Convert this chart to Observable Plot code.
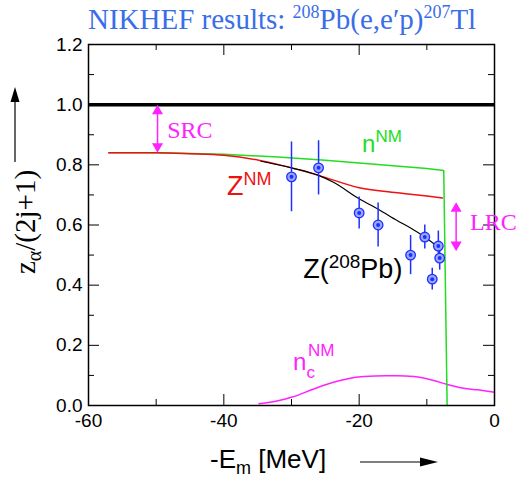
<!DOCTYPE html>
<html><head><meta charset="utf-8">
<script src="https://cdn.jsdelivr.net/npm/d3@7"></script>
<script src="https://cdn.jsdelivr.net/npm/@observablehq/plot@0.6"></script>
<style>
body{margin:0;background:#fff;}
#title{position:relative;height:28px;overflow:visible;width:521px;box-sizing:border-box;padding-left:88px;padding-top:5px;
  font-family:"Liberation Serif","Times New Roman",serif;font-size:29px;line-height:29px;color:#3a6ee8;white-space:nowrap;}
#title .sup{font-size:18px;position:relative;top:-11px;}
</style>
</head><body>
<div id="title">NIKHEF results: <span class="sup">208</span>Pb(e,e′p)<span class="sup">207</span>Tl</div>
<div id="chart"></div>
<script>
// ---- data ----
const xTicks = [-60, -40, -20, 0];
const xMinor = [-50, -30, -10];
const yTicks = [0, 0.2, 0.4, 0.6, 0.8, 1.0, 1.2];
const yMinor = [0.1, 0.3, 0.5, 0.7, 0.9, 1.1];

// experimental points (NIKHEF)
const expE   = [-30, -26, -20, -17.2, -12.4, -10.3, -8.3, -8.1, -9.2];
const expZ   = [0.76, 0.79, 0.64, 0.60, 0.50, 0.56, 0.53, 0.49, 0.42];
const expErr = [0.116, 0.09, 0.053, 0.073, 0.065, 0.04, 0.05, 0.04, 0.036];

// n^NM (green)
const nNM_E = [-57, -50, -45, -40, -32, -25, -20, -15, -10, -7.5, -7.0];
const nNM   = [0.840, 0.840, 0.838, 0.835, 0.826, 0.815, 0.806, 0.797, 0.788, 0.781, 0.0];

// Z^NM (red)
const zNM_E = [-57, -50, -45, -40, -35, -31.6, -26, -20, -14, -7.7];
const zNM   = [0.840, 0.840, 0.837, 0.832, 0.816, 0.799, 0.765, 0.724, 0.706, 0.690];

// Z(208Pb) (black)
const zPb_E = [-34.5, -30, -26, -23.8, -20, -17, -14.4, -12.4, -10.3, -8.3];
const zPb   = [0.812, 0.790, 0.765, 0.742, 0.687, 0.650, 0.615, 0.590, 0.560, 0.526];

// n_c^NM (magenta)
const ncE  = [-34.8, -32, -29.9, -26.7, -23.8, -21.5, -19.3, -16, -14.4, -11.9, -9, -7, -5, -2.5, 0];
const ncNM = [0.006, 0.016, 0.028, 0.055, 0.077, 0.090, 0.096, 0.099, 0.099, 0.096, 0.083, 0.070, 0.059, 0.052, 0.044];

const unity = [1.0];
// annotation arrows: [E, upper end, lower end]
const srcArrow = [-49.8, 1.0, 0.84];
const lrcArrow = [-5.67, 0.676, 0.513];

// ---- build ----
const W = 521, H = 452, mL = 88, mR = 27, mT = 16, mB = 75;
const kx = 60 / (W - mL - mR), ky = 1.2 / (H - mT - mB);
const major = 11, minor = 6;

const pts = expE.map((e, i) => ({E: e, Z: expZ[i], err: expErr[i]}));
const zip = (xs, ys) => xs.map((x, i) => ({E: x, v: ys[i]}));
const BLUE = "#1f2fff", GREEN = "#22dd22", RED = "#ee1111", MAG = "#ff22ff";
const SANS = "'Liberation Sans', Arial, Helvetica, sans-serif";
const SERIF = "'Liberation Serif', 'Times New Roman', serif";

const arrows = [srcArrow, lrcArrow];
const heads = {r: 4.1, fill: MAG, stroke: "none", symbol: "triangle"};

const chart = Plot.plot({
  width: W, height: H, marginLeft: mL, marginRight: mR, marginTop: mT, marginBottom: mB,
  style: {fontFamily: SANS, fontSize: "19px", background: "#fff"},
  x: {domain: [-60, 0]},
  y: {domain: [0, 1.2]},
  marks: [
    Plot.axisX({ticks: xTicks, tickSize: 0, tickPadding: 8, tickFormat: d => String(d), fontSize: 19, label: null}),
    Plot.axisY({ticks: yTicks, tickSize: 0, tickPadding: 6, tickFormat: d => d.toFixed(1), fontSize: 19, label: null}),
    // inward ticks
    Plot.ruleX(xTicks, {x: d => d, y1: 0, y2: major * ky, stroke: "#000"}),
    Plot.ruleX(xMinor, {x: d => d, y1: 0, y2: minor * ky, stroke: "#000"}),
    Plot.ruleX(xTicks, {x: d => d, y1: 1.2, y2: 1.2 - major * ky, stroke: "#000"}),
    Plot.ruleX(xMinor, {x: d => d, y1: 1.2, y2: 1.2 - minor * ky, stroke: "#000"}),
    Plot.ruleY(yTicks, {y: d => d, x1: -60, x2: -60 + major * kx, stroke: "#000"}),
    Plot.ruleY(yMinor, {y: d => d, x1: -60, x2: -60 + minor * kx, stroke: "#000"}),
    Plot.ruleY(yTicks, {y: d => d, x1: 0, x2: -major * kx, stroke: "#000"}),
    Plot.ruleY(yMinor, {y: d => d, x1: 0, x2: -minor * kx, stroke: "#000"}),
    Plot.ruleY(unity, {y: d => d, stroke: "#000", strokeWidth: 3.5}),
    // curves
    Plot.line(zip(ncE, ncNM), {x: "E", y: "v", stroke: MAG, strokeWidth: 1.5, curve: "monotone-x"}),
    Plot.line(zip(nNM_E, nNM), {x: "E", y: "v", stroke: GREEN, strokeWidth: 1.5}),
    Plot.line(zip(zNM_E, zNM), {x: "E", y: "v", stroke: RED, strokeWidth: 1.5, curve: "monotone-x"}),
    Plot.line(zip(zPb_E, zPb), {x: "E", y: "v", stroke: "#000", strokeWidth: 1.2, curve: "monotone-x"}),
    // data points
    Plot.ruleX(pts, {x: "E", y1: d => d.Z - d.err, y2: d => d.Z + d.err, stroke: BLUE, strokeWidth: 1.5}),
    Plot.dot(pts, {x: "E", y: "Z", r: 4.8, fill: "#9aa8ff", stroke: BLUE, strokeWidth: 1.3}),
    Plot.dot(pts, {x: "E", y: "Z", r: 2, fill: BLUE}),
    // SRC / LRC double arrows
    Plot.ruleX(arrows, {x: d => d[0], y1: d => d[1], y2: d => d[2], stroke: MAG, strokeWidth: 1.5, insetTop: 6, insetBottom: 6}),
    Plot.dot(arrows, {x: d => d[0], y: d => d[1], rotate: 0, dy: 6.4, ...heads}),
    Plot.dot(arrows, {x: d => d[0], y: d => d[2], rotate: 180, dy: -6.4, ...heads}),
    Plot.frame({stroke: "#000", strokeWidth: 1.5})
  ]
});
document.getElementById("chart").appendChild(chart);

const sx = chart.scale("x"), sy = chart.scale("y");
const svg = d3.select(chart);

function rich(x, y, parts, {fill = "#000", family = SANS, anchor = "start", rotate = 0} = {}) {
  const t = svg.append("text").attr("x", x).attr("y", y).attr("fill", fill)
    .style("font-family", family).attr("text-anchor", anchor).style("white-space", "pre");
  if (rotate) t.attr("transform", `rotate(${rotate},${x},${y})`);
  let cur = 0;
  for (const [s, size, shift = 0] of parts) {
    t.append("tspan").style("font-size", size + "px").attr("dy", cur - shift).text(s);
    cur = shift;
  }
  return t;
}

rich(sx.apply(-19.5), sy.apply(0.841), [["n", 24], ["NM", 17, 10]], {fill: GREEN});
rich(sx.apply(-39.46), sy.apply(0.698), [["Z", 27], ["NM", 18, 10]], {fill: RED});
rich(sx.apply(-28.2), sy.apply(0.422), [["Z(", 27], ["208", 19, 10], ["Pb)", 27, 0]], {fill: "#000"});
rich(sx.apply(-29.7), sy.apply(0.116), [["n", 24], ["c", 17, -8]], {fill: MAG});
rich(sx.apply(-27.5), sy.apply(0.163), [["NM", 17]], {fill: MAG});
rich(sx.apply(-48.3), sy.apply(0.888), [["SRC", 24]], {fill: MAG, family: SERIF});
rich(sx.apply(-3.55), sy.apply(0.582), [["LRC", 24]], {fill: MAG, family: SERIF});

// axis titles
rich(35, 194, [["z", 29], ["α", 20, -6], ["/(2j+1)", 29, 0]], {family: SERIF, anchor: "middle", rotate: -90});
rich(210, 440, [["-E", 26], ["m", 18, -6], [" [MeV]", 26, 0]], {family: SANS});

// decorative axis arrows
svg.append("line").attr("x1", 15).attr("x2", 15).attr("y1", 134).attr("y2", 70).attr("stroke", "#000").attr("stroke-width", 1.2);
svg.append("path").attr("d", "M15,59 L10.5,74 L19.5,74 Z").attr("fill", "#000");
svg.append("line").attr("x1", 360).attr("x2", 424).attr("y1", 434).attr("y2", 434).attr("stroke", "#000").attr("stroke-width", 1.2);
svg.append("path").attr("d", "M438,434 L420,429.5 L420,438.5 Z").attr("fill", "#000");
</script>
</body></html>
